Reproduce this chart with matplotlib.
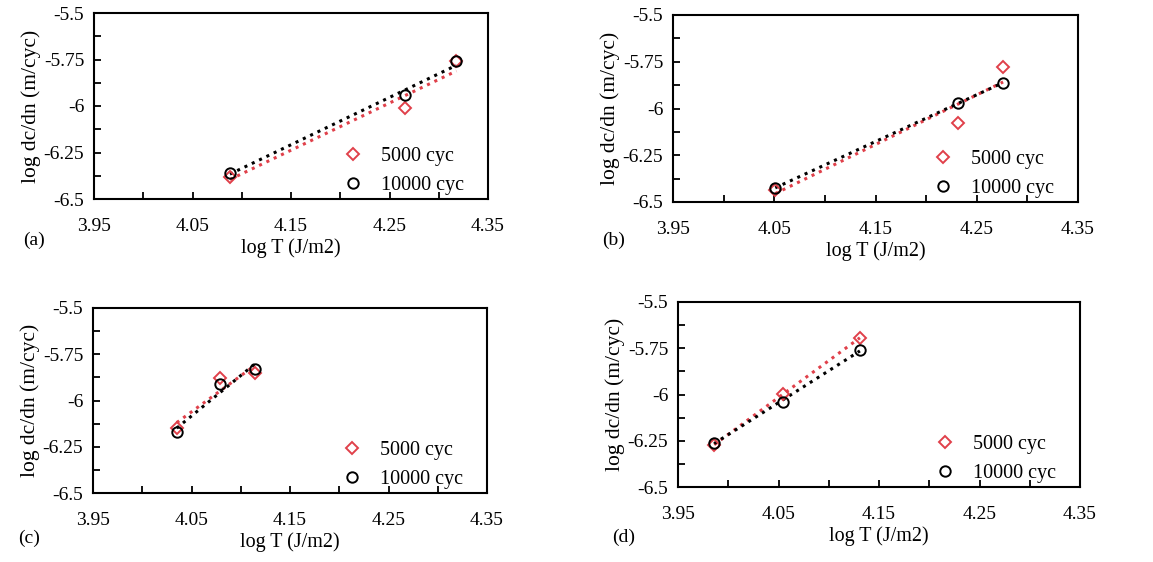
import numpy as np
import matplotlib.pyplot as plt
from matplotlib.ticker import FixedLocator

plt.rcParams['font.family'] = ['Liberation Serif', 'DejaVu Serif']

# ---------------------------------------------------------
# Data
# ---------------------------------------------------------
panel_names = ["(a)", "(b)", "(c)", "(d)"]

x_a = [4.088, 4.266, 4.318]
y5000_a = [-6.38, -6.01, -5.76]
y10000_a = [-6.36, -5.94, -5.76]

x_b = [4.051, 4.231, 4.276]
y5000_b = [-6.435, -6.078, -5.778]
y10000_b = [-6.425, -5.97, -5.865]

x_c = [4.035, 4.079, 4.114]
y5000_c = [-6.15, -5.88, -5.85]
y10000_c = [-6.17, -5.91, -5.83]

x_d = [3.986, 4.054, 4.131]
y5000_d = [-6.273, -5.997, -5.695]
y10000_d = [-6.26, -6.04, -5.76]

xtick_vals = [3.95, 4.05, 4.15, 4.25, 4.35]
xtick_labels = ["3.95", "4.05", "4.15", "4.25", "4.35"]
ytick_vals = [-6.5, -6.25, -6.0, -5.75, -5.5]
ytick_labels = ["-6.5", "-6.25", "-6", "-5.75", "-5.5"]

series = [
    (x_a, y5000_a, y10000_a),
    (x_b, y5000_b, y10000_b),
    (x_c, y5000_c, y10000_c),
    (x_d, y5000_d, y10000_d),
]

# axes boxes in pixels: left, top, right, bottom
W, H = 1153, 562
boxes = [
    (94, 13, 488, 199),
    (673, 15, 1078, 202),
    (93, 308, 487, 493),
    (678, 302, 1080, 487),
]
# panel letter positions in pixels (left, centre y)
name_pos = [(23, 240), (602, 240), (18, 538), (612, 537)]

red = "#e0404a"
fs = 14

fig = plt.figure(figsize=(W / 100, H / 100), dpi=100)

for (xs, y5, y10), box, name, npos in zip(series, boxes, panel_names, name_pos):
    l, t, r, b = box
    ax = fig.add_axes([l / W, 1 - b / H, (r - l) / W, (b - t) / H])

    xs = np.array(xs)
    # linear trend lines, drawn between the first and last point
    for ys, c in [(y5, red), (y10, "black")]:
        k, c0 = np.polyfit(xs, ys, 1)
        xx = np.array([xs.min(), xs.max()])
        ax.plot(xx, k * xx + c0, linestyle=":", color=c, linewidth=2.2)

    ax.plot(xs, y5, linestyle="none", marker="D", markersize=6.5,
            markerfacecolor="none", markeredgecolor=red, markeredgewidth=1.4,
            label="5000 cyc")
    ax.plot(xs, y10, linestyle="none", marker="o", markersize=7.5,
            markerfacecolor="none", markeredgecolor="black", markeredgewidth=1.4,
            label="10000 cyc")

    ax.set_xlim(3.95, 4.35)
    ax.set_ylim(-6.5, -5.5)
    ax.set_xticks(xtick_vals)
    ax.set_xticklabels(xtick_labels, fontsize=fs)
    ax.set_yticks(ytick_vals)
    ax.set_yticklabels(ytick_labels, fontsize=fs)
    ax.xaxis.set_minor_locator(FixedLocator([4.0, 4.1, 4.2, 4.3]))
    ax.yaxis.set_minor_locator(FixedLocator([-6.375, -6.125, -5.875, -5.625]))
    ax.tick_params(axis="both", which="both", direction="in", length=5, width=1.3,
                   pad=7)
    ax.tick_params(axis="x", which="major", pad=14)

    for s in ax.spines.values():
        s.set_linewidth(1.5)

    ax.set_xlabel("log T (J/m2)", fontsize=14.5, labelpad=2)
    ax.set_ylabel("log dc/dn (m/cyc)", fontsize=15.5, labelpad=2)

    ax.legend(loc="lower right", frameon=False, fontsize=14.5,
              handletextpad=0.4, labelspacing=0.5, borderaxespad=0.1,
              bbox_to_anchor=(0.965, -0.035))

    fig.text(npos[0] / W, 1 - npos[1] / H, name, fontsize=fs,
             ha="left", va="center")

plt.savefig("out.png", dpi=100)
